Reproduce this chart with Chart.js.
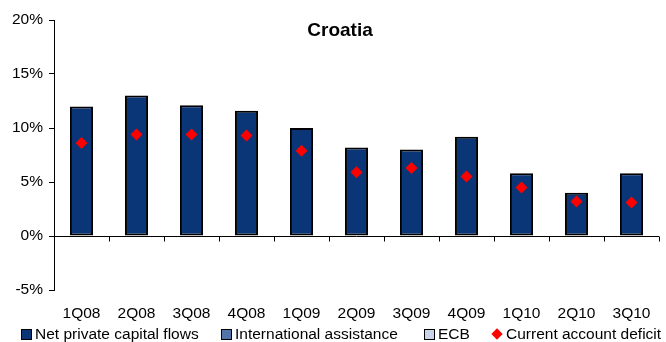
<!DOCTYPE html>
<html>
<head>
<meta charset="utf-8">
<script src="https://cdn.jsdelivr.net/npm/chart.js@4/dist/chart.umd.min.js"></script>
<style>
  html, body { margin: 0; padding: 0; background: #fff; }
  #wrap { position: relative; width: 666px; height: 342px; }
  #legend { position: absolute; left: 0; top: 326px; width: 666px; height: 16px;
            font-family: 'Liberation Sans', Arial, sans-serif; font-size: 15.5px; color: #000; }
  .item { position: absolute; top: 0; display: flex; align-items: center; height: 16px; white-space: nowrap; }
  .box { width: 9px; height: 9px; border: 1px solid #000; margin-right: 3px; }
  .diamond { width: 8px; height: 8px; background: #ff0000; transform: rotate(45deg); margin: 0 5px 0 2px; }
</style>
</head>
<body>
<div id="wrap">
  <canvas id="c" width="666" height="342"></canvas>
  <div id="legend"></div>
</div>
<script>
// Quarterly financing flows for Croatia, % of GDP
const categories = ['1Q08', '2Q08', '3Q08', '4Q08', '1Q09', '2Q09', '3Q09', '4Q09', '1Q10', '2Q10', '3Q10'];
const netPrivateFlows = [12.0, 13.0, 12.1, 11.6, 10.0, 8.2, 8.0, 9.2, 5.8, 4.0, 5.8];
const internationalAssistance = [];
const ecbFunding = [];
const currentAccountDeficit = [8.6, 9.4, 9.4, 9.3, 7.9, 5.9, 6.3, 5.5, 4.5, 3.2, 3.1];
const yTicks = [-5, 0, 5, 10, 15, 20];

const FONT = "'Liberation Sans', Arial, sans-serif";

// Zero line with downward tick marks at category boundaries, plus the title
const axisAtZero = {
  id: 'axisAtZero',
  afterDatasetsDraw(chart) {
    const { ctx, chartArea, scales } = chart;
    const y0 = Math.round(scales.y.getPixelForValue(0)) + 0.5;
    const n = categories.length;
    const step = (chartArea.right - chartArea.left) / n;
    ctx.save();
    ctx.strokeStyle = '#000';
    ctx.lineWidth = 1;
    ctx.beginPath();
    ctx.moveTo(chartArea.left, y0);
    ctx.lineTo(chartArea.right, y0);
    for (let i = 0; i <= n; i++) {
      const x = Math.round(chartArea.left + i * step) + 0.5;
      ctx.moveTo(x, y0);
      ctx.lineTo(x, y0 + 5);
    }
    ctx.stroke();
    ctx.restore();
  },
  afterDraw(chart) {
    const { ctx } = chart;
    ctx.save();
    ctx.font = "bold 19px " + FONT;
    ctx.fillStyle = '#000';
    ctx.textAlign = 'center';
    ctx.textBaseline = 'middle';
    ctx.fillText('Croatia', 340, 31);
    ctx.restore();
  }
};

const chart = new Chart(document.getElementById('c'), {
  data: {
    labels: categories,
    datasets: [
      {
        type: 'bar', label: 'Net private capital flows', data: netPrivateFlows,
        backgroundColor: '#0a3577', borderColor: '#000', borderWidth: 2, borderSkipped: false,
        barPercentage: 0.42, categoryPercentage: 1, order: 1, stack: 'flows'
      },
      {
        type: 'bar', label: 'International assistance', data: internationalAssistance,
        backgroundColor: '#5374a8', borderColor: '#000', borderWidth: 2,
        barPercentage: 0.42, categoryPercentage: 1, order: 1, stack: 'flows'
      },
      {
        type: 'bar', label: 'ECB', data: ecbFunding,
        backgroundColor: '#c8d4e8', borderColor: '#000', borderWidth: 2,
        barPercentage: 0.42, categoryPercentage: 1, order: 1, stack: 'flows'
      },
      {
        type: 'line', label: 'Current account deficit', data: currentAccountDeficit,
        showLine: false, pointStyle: 'rectRot', pointRadius: 6, pointHoverRadius: 6,
        pointBackgroundColor: '#ff0000', pointBorderColor: '#ff0000', pointBorderWidth: 0,
        order: 0, stack: 'cad'
      }
    ]
  },
  options: {
    responsive: false,
    animation: false,
    devicePixelRatio: 1,
    layout: { padding: { left: 0, right: 7, top: 20, bottom: 20 } },
    plugins: { legend: { display: false }, tooltip: { enabled: false }, title: { display: false } },
    scales: {
      x: {
        stacked: true,
        grid: { display: false, drawTicks: false },
        border: { display: false },
        ticks: { color: '#000', font: { family: FONT, size: 15.5 }, padding: 14, maxRotation: 0, autoSkip: false },
        afterFit(scale) { scale.height = 32; }
      },
      y: {
        stacked: true,
        min: -5, max: 20,
        afterBuildTicks(scale) { scale.ticks = yTicks.map(v => ({ value: v })); },
        grid: { drawOnChartArea: false, drawTicks: true, tickLength: 5, color: '#000' },
        border: { display: true, color: '#000', width: 1 },
        ticks: { color: '#000', font: { family: FONT, size: 15.5 }, padding: 6, callback: v => v + '%' },
        afterFit(scale) { scale.width = 54; }
      }
    }
  },
  plugins: [axisAtZero]
});

// Legend row built from the chart's datasets
const legend = document.getElementById('legend');
const lefts = [21, 221, 424, 491];
chart.data.datasets.forEach((ds, i) => {
  const item = document.createElement('div');
  item.className = 'item';
  item.style.left = lefts[i] + 'px';
  const mark = document.createElement('span');
  if (ds.type === 'line') {
    mark.className = 'diamond';
  } else {
    mark.className = 'box';
    mark.style.background = ds.backgroundColor;
  }
  const text = document.createElement('span');
  text.textContent = ds.label;
  item.appendChild(mark);
  item.appendChild(text);
  legend.appendChild(item);
});
</script>
</body>
</html>
